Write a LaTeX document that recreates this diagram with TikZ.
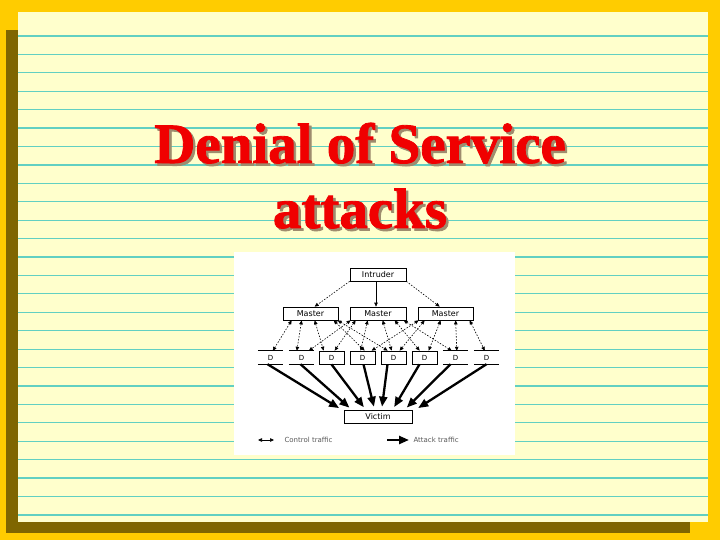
\documentclass[tikz,border=0pt]{standalone}
\usepackage{fontspec}
\setmainfont{Liberation Serif}
\newfontfamily\titlefont{Liberation Serif}[BoldFeatures={FakeBold=1.5}]
\newfontfamily\diagfont{DejaVu Sans}
\usetikzlibrary{arrows.meta}
\definecolor{gold}{HTML}{FFCC00}
\definecolor{paper}{HTML}{FFFFCC}
\definecolor{rulecol}{HTML}{62D0C2}
\definecolor{olivesh}{HTML}{7F6600}
\definecolor{titlered}{HTML}{F00000}
\definecolor{titleshadow}{HTML}{9E8C6E}
\newcommand{\shadowtext}[1]{\makebox[0pt][l]{\hspace{2.5pt}\raisebox{-2.5pt}{\textcolor{titleshadow}{#1}}}\textcolor{titlered}{#1}}
\begin{document}
\begin{tikzpicture}[x=1pt,y=-1pt,
  box/.style={draw, line width=0.7pt, minimum height=13pt, inner sep=0pt, fill=white,
    font=\diagfont\fontsize{8}{8}\selectfont},
  openbox/.style={minimum height=13pt, minimum width=25pt, inner sep=0pt,
    font=\diagfont\fontsize{7}{7}\selectfont},
  ctrl/.style={line width=0.6pt, dash pattern=on 1.5pt off 1.5pt,
    {Triangle[length=4pt,width=3.5pt]}-{Triangle[length=4pt,width=3.5pt]}},
  cmd/.style={line width=0.6pt, dash pattern=on 1.5pt off 1.5pt, -{Triangle[length=4pt,width=3.5pt]}},
  cmdsolid/.style={line width=0.7pt, -{Triangle[length=4pt,width=3.5pt]}},
  attack/.style={line width=2.3pt, shorten >=3pt, -{Triangle[length=10pt,width=8pt]}},
  titletext/.style={anchor=base, font=\titlefont\bfseries\fontsize{57}{65}\selectfont},
  legendtext/.style={anchor=west, text=black!65, font=\diagfont\fontsize{7}{7}\selectfont}
]
\useasboundingbox (0,0) rectangle (720,540);
% background and paper
\fill[gold] (0,0) rectangle (720,540);
\fill[olivesh] (6,30) rectangle (18,533);
\fill[olivesh] (6,522) rectangle (690,533);
\fill[paper] (18,12) rectangle (708,522);
\foreach \k in {0,...,26}
  \draw[rulecol, line width=1.2pt] (18,{36+18.42*\k}) -- (708,{36+18.42*\k});
% title
\node[titletext] (t1) at (360,163) {\shadowtext{Denial of Service}};
\node[titletext] (t2) at (360,228) {\shadowtext{attacks}};
% diagram panel
\fill[white] (234,252) rectangle (515,455);
% nodes
\node[box, minimum width=56pt] (intr) at (378,274.5) {Intruder};
\node[box, minimum width=55pt] (m1) at (310.5,313.5) {Master};
\node[box, minimum width=56pt] (m2) at (378,313.5) {Master};
\node[box, minimum width=55pt] (m3) at (445.5,313.5) {Master};
\node[openbox] (d1) at (270.5,357.5) {D};
\node[openbox] (d2) at (301.5,357.5) {D};
\node[openbox, draw, line width=0.7pt] (d3) at (331.5,357.5) {D};
\node[openbox, draw, line width=0.7pt] (d4) at (362.5,357.5) {D};
\node[openbox, draw, line width=0.7pt] (d5) at (393.5,357.5) {D};
\node[openbox, draw, line width=0.7pt] (d6) at (424.5,357.5) {D};
\node[openbox] (d7) at (455.5,357.5) {D};
\node[openbox] (d8) at (486.5,357.5) {D};
\foreach \d in {d1,d2,d7,d8}{
  \draw[line width=0.7pt] (\d.north west) -- (\d.north east);
  \draw[line width=0.7pt] (\d.south west) -- (\d.south east);
}
\node[box, minimum width=68pt] (vic) at (378,416.5) {Victim};
% intruder to masters
\draw[cmd] (intr.south west) -- ([xshift=32pt]m1.north west);
\draw[cmdsolid] ([xshift=-2pt]intr.south) -- ([xshift=-2pt]m2.north);
\draw[cmd] (intr.south east) -- ([xshift=22pt]m3.north west);
% control traffic masters <-> daemons
\draw[ctrl] ([xshift=9pt]m1.south west) -- ([xshift=15pt]d1.north west);
\draw[ctrl] ([xshift=19pt]m1.south west) -- ([xshift=8pt]d2.north west);
\draw[ctrl] ([xshift=32pt]m1.south west) -- ([xshift=5pt]d3.north west);
\draw[ctrl] ([xshift=51pt]m1.south west) -- ([xshift=15pt]d4.north west);
\draw[ctrl] ([xshift=55pt]m1.south west) -- ([xshift=7pt]d5.north west);
\draw[ctrl] ([xshift=1pt]m2.south west) -- ([xshift=20pt]d2.north west);
\draw[ctrl] ([xshift=6pt]m2.south west) -- ([xshift=16pt]d3.north west);
\draw[ctrl] ([xshift=18pt]m2.south west) -- ([xshift=11pt]d4.north west);
\draw[ctrl] ([xshift=33pt]m2.south west) -- ([xshift=11pt]d5.north west);
\draw[ctrl] ([xshift=45pt]m2.south west) -- ([xshift=8pt]d6.north west);
\draw[ctrl] ([xshift=54pt]m2.south west) -- ([xshift=9pt]d7.north west);
\draw[ctrl] ([xshift=1pt]m3.south west) -- ([xshift=22pt]d4.north west);
\draw[ctrl] ([xshift=7pt]m3.south west) -- ([xshift=19pt]d5.north west);
\draw[ctrl] ([xshift=23pt]m3.south west) -- ([xshift=17pt]d6.north west);
\draw[ctrl] ([xshift=38pt]m3.south west) -- ([xshift=14pt]d7.north west);
\draw[ctrl] ([xshift=52pt]m3.south west) -- ([xshift=11pt]d8.north west);
% attack traffic daemons -> victim
\draw[attack] ([xshift=-3pt]d1.south) -- ([xshift=-2pt]vic.north west);
\draw[attack] ([xshift=-1pt]d2.south) -- ([xshift=8pt]vic.north west);
\draw[attack] ([xshift=0pt]d3.south) -- ([xshift=22pt]vic.north west);
\draw[attack] ([xshift=1pt]d4.south) -- ([xshift=31pt]vic.north west);
\draw[attack] ([xshift=-6pt]d5.south) -- ([xshift=38pt]vic.north west);
\draw[attack] ([xshift=-5pt]d6.south) -- ([xshift=49pt]vic.north west);
\draw[attack] ([xshift=-5pt]d7.south) -- ([xshift=61pt]vic.north west);
\draw[attack] ([xshift=0pt]d8.south) -- ([xshift=72pt]vic.north west);
% legend
\coordinate (cl1) at (258,440);
\coordinate (cl2) at (274,440);
\draw[line width=0.6pt, {Triangle[length=4pt,width=3.5pt]}-{Triangle[length=4pt,width=3.5pt]}] (cl1) -- (cl2);
\node[legendtext] (clt) at (281,440) {Control traffic};
\coordinate (al1) at (387,440);
\coordinate (al2) at (409,440);
\draw[line width=2.3pt, -{Triangle[length=10pt,width=8pt]}] (al1) -- (al2);
\node[legendtext] (alt) at (410,440) {Attack traffic};
\end{tikzpicture}
\end{document}
